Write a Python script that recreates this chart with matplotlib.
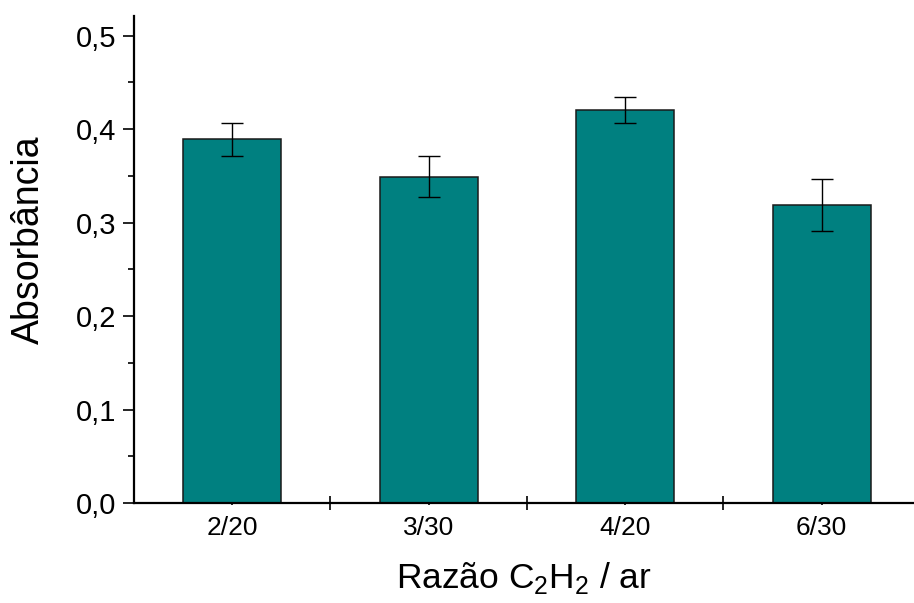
import matplotlib.pyplot as plt
from matplotlib.ticker import MultipleLocator, FuncFormatter

plt.rcParams['font.family'] = ['Liberation Sans', 'DejaVu Sans']
plt.rcParams['mathtext.fontset'] = 'custom'
plt.rcParams['mathtext.rm'] = 'Liberation Sans'

# data
categories = ['2/20', '3/30', '4/20', '6/30']
absorbance = [0.389, 0.349, 0.420, 0.319]
errors = [0.018, 0.022, 0.014, 0.028]

fig = plt.figure(figsize=(9.14, 6.03), dpi=100)
ax = fig.add_axes([0.1466, 0.1658, 0.8534, 0.8077])

x = list(range(1, len(categories) + 1))
ax.bar(x, absorbance, width=0.5, color='#008080', edgecolor='#1a1a1a', linewidth=1.1)
ax.errorbar(x, absorbance, yerr=errors, fmt='none', ecolor='black',
            elinewidth=1.0, capsize=8, capthick=1.0)

ax.set_xlim(0.5, 4.47)
ax.set_ylim(0, 0.521)

for side in ['top', 'right']:
    ax.spines[side].set_visible(False)
for side in ['left', 'bottom']:
    ax.spines[side].set_linewidth(1.6)

# y axis
ax.yaxis.set_major_locator(MultipleLocator(0.1))
ax.yaxis.set_minor_locator(MultipleLocator(0.05))
ax.yaxis.set_major_formatter(FuncFormatter(lambda v, p: f'{v:.1f}'.replace('.', ',')))
ax.tick_params(axis='y', which='major', direction='out', length=8, width=1.2,
               labelsize=21, pad=5)
ax.tick_params(axis='y', which='minor', direction='out', length=4.5, width=1.2)

# x axis
ax.set_xticks(x)
ax.set_xticklabels(categories)
ax.set_xticks([1.5, 2.5, 3.5], minor=True)
ax.tick_params(axis='x', which='major', direction='out', length=1.5, width=1.2,
               labelsize=19, pad=8)
ax.tick_params(axis='x', which='minor', direction='inout', length=9.5, width=1.2)

ax.set_xlabel('Razão C$_2$H$_2$ / ar', fontsize=25.5, labelpad=14)
ax.set_ylabel('Absorbância', fontsize=27)
ax.yaxis.set_label_coords(-0.112, 0.54)

fig.savefig('out.png', dpi=100)
